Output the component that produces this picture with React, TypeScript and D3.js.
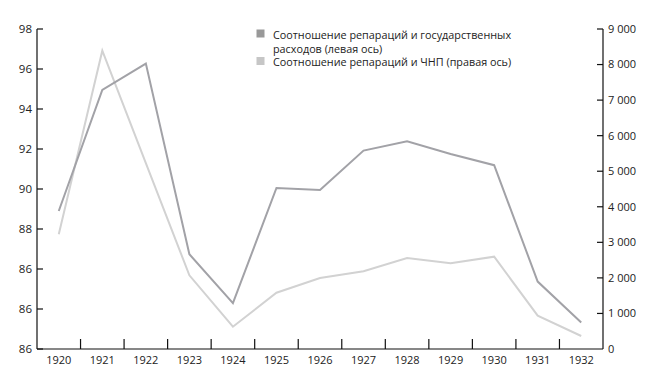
import React from "react";
import * as d3 from "d3";

const years = ["1920","1921","1922","1923","1924","1925","1926","1927","1928","1929","1930","1931","1932"];
const govSpendingRatio = [88.9, 94.95, 96.27, 86.74, 84.29, 90.05, 89.95, 91.92, 92.39, 91.75, 91.19, 85.37, 83.32];
const gnpRatio = [3226, 8390, 5230, 2073, 627, 1583, 1997, 2185, 2559, 2410, 2596, 937, 366];
const leftTickValues = [82, 84, 86, 88, 90, 92, 94, 96, 98];
const leftTickLabels = ["86", "86", "86", "88", "90", "92", "94", "96", "98"];
const rightTickValues = [0, 1000, 2000, 3000, 4000, 5000, 6000, 7000, 8000, 9000];
const rightTickLabels = ["0", "1 000", "2 000", "3 000", "4 000", "5 000", "6 000", "7 000", "8 000", "9 000"];
const legendLines = ["Соотношение репараций и государственных", "расходов (левая ось)", "Соотношение репараций и ЧНП (правая ось)"];

const W = 662, H = 376;
const left = 37, right = 603, top = 29, bottom = 349;
const DARK = "#a2a2a7";
const LIGHT = "#d2d2d2";
const FONT = "'Open Sans', 'Noto Sans', sans-serif";

export default function App() {
  const x = d3.scaleBand<string>().domain(years).range([left, right]).paddingInner(0).paddingOuter(0);
  const yL = d3.scaleLinear().domain([82, 98]).range([bottom, top]);
  const yR = d3.scaleLinear().domain([0, 9000]).range([bottom, top]);
  const cx = (i: number) => (x(years[i]) as number) + x.bandwidth() / 2;
  const lineL = d3.line<number>().x((_, i) => cx(i)).y((d) => yL(d));
  const lineR = d3.line<number>().x((_, i) => cx(i)).y((d) => yR(d));
  const boundaries = years.slice(1).map((yv) => x(yv) as number);

  return (
    <svg width={W} height={H} style={{ position: "absolute", left: 0, top: 0, fontFamily: FONT }}>
      <rect width={W} height={H} fill="#fff" />
      <path d={lineR(gnpRatio) || ""} fill="none" stroke={LIGHT} strokeWidth={2} />
      <path d={lineL(govSpendingRatio) || ""} fill="none" stroke={DARK} strokeWidth={2} />

      <line x1={left} x2={left} y1={top} y2={bottom} stroke="#111" strokeWidth={1.2} />
      {leftTickValues.map((v, i) => (
        <g key={"l" + i}>
          <line x1={left} x2={left + 6} y1={yL(v)} y2={yL(v)} stroke="#111" strokeWidth={1.2} />
          <text x={left - 5} y={yL(v)} dy="0.35em" textAnchor="end" fontSize={11.5} fill="#222">{leftTickLabels[i]}</text>
        </g>
      ))}

      <line x1={right} x2={right} y1={top} y2={bottom} stroke="#111" strokeWidth={1.2} />
      {rightTickValues.map((v, i) => (
        <g key={"r" + i}>
          {v !== 0 && <line x1={right - 6} x2={right} y1={yR(v)} y2={yR(v)} stroke="#111" strokeWidth={1.2} />}
          <text x={right + 5} y={yR(v)} dy="0.35em" textAnchor="start" fontSize={11} fill="#222">{rightTickLabels[i]}</text>
        </g>
      ))}

      <line x1={left} x2={right} y1={bottom} y2={bottom} stroke="#111" strokeWidth={1.2} />
      {boundaries.map((bx, i) => (
        <line key={"b" + i} x1={bx} x2={bx} y1={bottom} y2={bottom - 10} stroke="#111" strokeWidth={1.2} />
      ))}
      {years.map((yv, i) => (
        <text key={"y" + i} x={cx(i)} y={bottom + 15} textAnchor="middle" fontSize={11} fill="#222">{yv}</text>
      ))}

      <rect x={256.5} y={29.5} width={8} height={8} fill="#999999" />
      <rect x={256.5} y={57} width={8} height={8} fill="#c6c6c6" />
      {legendLines.map((t, i) => (
        <text key={"lg" + i} x={273} y={39 + i * 13.5} fontSize={10.8} fill="#222">{t}</text>
      ))}
    </svg>
  );
}
